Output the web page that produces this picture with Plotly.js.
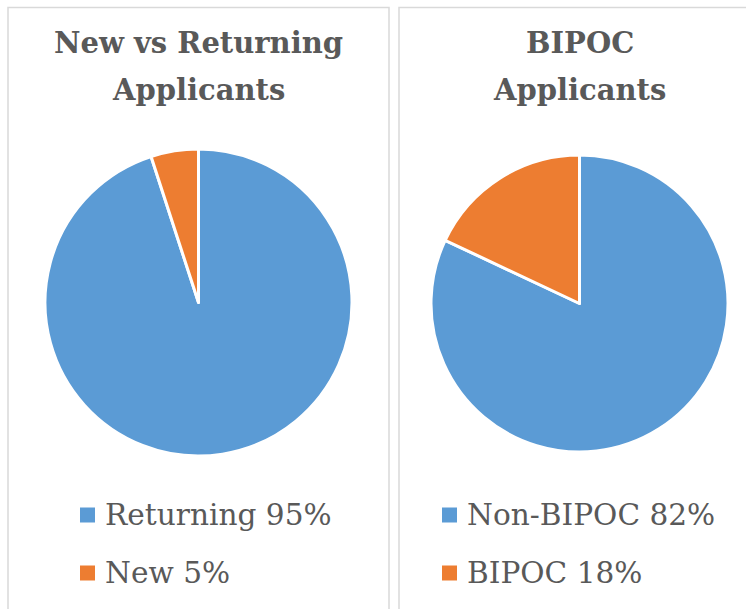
<!DOCTYPE html>
<html>
<head>
<meta charset="utf-8">
<script src="https://cdn.plot.ly/plotly-3.0.1.min.js"></script>
<style>html,body{margin:0;padding:0;background:#fff;}#chart{width:746px;height:609px;}</style>
</head>
<body>
<div id="chart"></div>
<script>
// Data
const titleLines1 = ['New vs Returning', 'Applicants'];
const titleLines2 = ['BIPOC', 'Applicants'];
const labels1 = ['Returning', 'New'];
const values1 = [95, 5];
const labels2 = ['Non-BIPOC', 'BIPOC'];
const values2 = [82, 18];
const sliceColors = ['#5B9BD5', '#ED7D31'];

const W = 746, H = 609;
const px = v => v / W;
const py = v => 1 - v / H;
const serif = 'DejaVu Serif';
const grey = '#595959';

function legendText(labels, values) {
  return labels.map((l, i) => l + ' ' + values[i] + '%');
}

const charts = [
  {labels: labels1, values: values1, title: titleLines1,
   dom: {x: [px(45), px(352)], y: [py(456), py(149)]}, titleX: 198.5, legX: 80},
  {labels: labels2, values: values2, title: titleLines2,
   dom: {x: [px(431), px(728)], y: [py(452), py(155)]}, titleX: 579.5, legX: 442}
];

const traces = charts.map(c => ({
  type: 'pie', labels: legendText(c.labels, c.values), values: c.values,
  sort: false, direction: 'clockwise', rotation: 0,
  marker: {colors: sliceColors, line: {color: '#ffffff', width: 3}},
  textinfo: 'none', hoverinfo: 'label+percent',
  domain: c.dom
}));

const shapes = [
  {type: 'rect', xref: 'paper', yref: 'paper', x0: px(8), x1: px(389), y0: py(640), y1: py(7.5),
   line: {color: '#D9D9D9', width: 1.5}, fillcolor: 'rgba(0,0,0,0)'},
  {type: 'rect', xref: 'paper', yref: 'paper', x0: px(399), x1: px(780), y0: py(640), y1: py(7.5),
   line: {color: '#D9D9D9', width: 1.5}, fillcolor: 'rgba(0,0,0,0)'}
];
const annotations = [];
const titleY = [43.5, 90.5];
const rowY = [515, 573];
charts.forEach((c, k) => {
  c.title.forEach((t, j) => {
    annotations.push({text: t, x: px(c.titleX), y: py(titleY[j]), xref: 'paper', yref: 'paper',
      showarrow: false, xanchor: 'center', yanchor: 'middle',
      font: {family: serif, size: 29, color: grey, weight: 'bold'}});
  });
  legendText(c.labels, c.values).forEach((t, i) => {
    shapes.push({type: 'rect', xref: 'paper', yref: 'paper',
      x0: px(c.legX), x1: px(c.legX + 15), y0: py(rowY[i] + 7.5), y1: py(rowY[i] - 7.5),
      line: {width: 0}, fillcolor: sliceColors[i]});
    annotations.push({text: t, x: px(c.legX + 23), y: py(rowY[i]), xref: 'paper', yref: 'paper',
      showarrow: false, xanchor: 'left', yanchor: 'middle',
      font: {family: serif, size: 29.6, color: grey}});
  });
});

const layout = {
  width: W, height: H,
  margin: {l: 0, r: 0, t: 0, b: 0},
  paper_bgcolor: '#ffffff',
  showlegend: false,
  shapes: shapes,
  annotations: annotations
};

Plotly.newPlot('chart', traces, layout, {displayModeBar: false, staticPlot: true});
</script>
</body>
</html>
